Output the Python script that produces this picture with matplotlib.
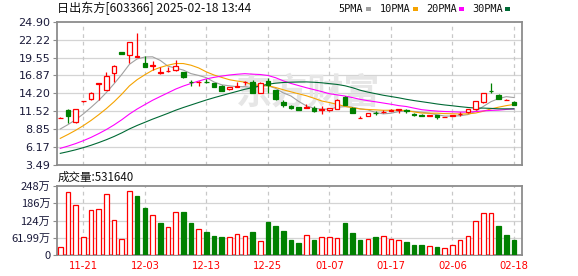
import numpy as np
import pandas as pd
import matplotlib
matplotlib.use("Agg")
import matplotlib.pyplot as plt
from matplotlib.patches import Rectangle

# ---------------- data ----------------
title = "日出东方[603366] 2025-02-18 13:44"
vol_title = "成交量:531640"
tick_dates = ["11-21", "12-03", "12-13", "12-25", "01-07", "01-17", "02-06", "02-18"]
holidays = ["2025-01-01", "2025-01-28", "2025-01-29", "2025-01-30", "2025-01-31",
            "2025-02-03", "2025-02-04"]
price_tick_labels = ["3.49", "6.17", "8.85", "11.52", "14.20", "16.87", "19.55", "22.22", "24.90"]
vol_tick_values = [0, 61.99, 124, 186, 248]
vol_tick_labels = ["0", "61.99万", "124万", "186万", "248万"]
ma_names = ["5PMA", "10PMA", "20PMA", "30PMA"]
ma_periods = [5, 10, 20, 30]

# closes before the first visible day (only feed the moving averages)
prior_close = [3.30, 3.40, 3.45, 3.60, 3.70, 3.80, 3.85, 3.95, 4.05, 4.20,
               4.20, 4.30, 4.35, 4.40, 4.45, 4.50, 4.55, 4.60, 4.70, 4.85,
               5.05, 5.55, 6.10, 6.50, 7.15, 7.60, 8.15, 8.70, 9.34]

open_ = [10.52, 11.70, 9.87, 12.98, 13.40, 15.66, 14.75, 17.29, 20.37, 19.87,
         19.70, 18.68, 18.28, 17.28, 17.48, 17.68, 17.34, 15.94, 15.88, 15.94,
         15.69, 15.30, 14.79, 15.20, 15.85, 15.89, 14.30, 16.09, 14.70, 12.90,
         12.35, 12.15, 12.05, 12.00, 11.75, 11.70, 11.90, 13.60, 12.00, 10.50,
         10.86, 11.30, 11.40, 11.60, 11.75, 11.65, 11.16, 11.00, 10.88, 10.90,
         10.62, 10.80, 11.05, 11.36, 11.90, 12.95, 14.60, 13.95, 13.20, 12.95]
high = [10.70, 11.80, 11.85, 13.10, 14.45, 15.78, 17.34, 18.40, 20.40, 21.85,
        23.26, 19.77, 19.08, 18.18, 18.18, 19.13, 17.44, 16.19, 15.98, 16.29,
        15.79, 15.44, 15.12, 15.89, 16.04, 16.19, 15.85, 16.49, 14.75, 13.15,
        12.50, 12.20, 12.60, 12.30, 12.30, 12.05, 13.30, 13.80, 12.10, 10.85,
        11.25, 11.55, 11.70, 11.80, 11.82, 11.80, 11.20, 11.05, 11.00, 11.00,
        10.68, 10.98, 11.40, 11.86, 13.05, 14.25, 15.75, 14.05, 13.35, 13.05]
low = [10.45, 9.72, 9.80, 12.95, 13.20, 13.20, 14.75, 15.94, 20.00, 18.68,
       19.65, 18.15, 17.68, 17.08, 17.45, 17.53, 16.54, 15.34, 15.34, 15.69,
       15.09, 14.60, 14.75, 15.09, 15.44, 14.30, 14.25, 14.20, 13.20, 12.20,
       11.90, 11.76, 12.00, 11.36, 11.05, 11.50, 11.85, 12.40, 11.20, 10.50,
       10.86, 10.95, 11.25, 11.55, 11.30, 11.20, 10.80, 10.85, 10.75, 10.40,
       10.60, 10.78, 10.80, 11.20, 11.70, 12.70, 14.20, 13.30, 13.15, 12.40]
close = [10.56, 10.86, 11.80, 13.05, 14.25, 15.74, 16.79, 18.33, 20.02, 21.82,
         19.77, 18.18, 18.48, 17.33, 17.53, 18.33, 16.69, 15.84, 15.95, 15.88,
         15.09, 14.60, 15.09, 15.30, 15.90, 14.30, 15.79, 15.44, 13.30, 12.50,
         11.96, 11.76, 12.10, 11.56, 11.80, 12.00, 13.15, 12.50, 11.20, 10.55,
         11.25, 11.20, 11.45, 11.65, 11.80, 11.60, 10.96, 10.86, 10.95, 10.60,
         10.65, 10.95, 11.10, 11.80, 13.05, 14.25, 14.55, 13.40, 13.25, 12.40]
volume = [27.6, 225, 180, 63, 160, 164, 218, 125, 56, 229,
          212, 169, 143, 115, 99, 153, 155, 115, 92, 83,
          68, 65, 63, 74, 67, 83, 50, 119, 104, 86,
          54, 43, 72, 54, 63, 63, 60, 115, 79, 54,
          56, 65, 67, 56, 53, 47, 36, 36, 31, 29,
          24, 35, 53, 67, 121, 150, 150, 104, 72, 53.164]

# ---------------- style ----------------
W, H = 578, 276
RED = "#ff0000"
GREEN = "#008000"
MA_COLORS = ["#a0a0a0", "#f5a300", "#ff00ff", "#006a35"]
GRID = "#d4d4d4"
SPINE = "#8c8c8c"
LABEL = "#1a1a3a"
CJK = ["Noto Sans CJK SC", "DejaVu Sans"]

def fx(px):
    return px / W

def fy(py):
    return 1 - py / H

n = len(close)
idx = np.arange(n)
days = pd.bdate_range("2024-11-18", "2025-02-18")
days = [d for d in days if d.strftime("%Y-%m-%d") not in holidays]
dates = [d.strftime("%m-%d") for d in days]
tick_pos = [dates.index(t) for t in tick_dates]

full = np.array(prior_close + close)
off = len(prior_close)
mas = [np.array([full[off + i - p + 1: off + i + 1].mean() for i in range(n)]) for p in ma_periods]

fig = plt.figure(figsize=(W / 100, H / 100), dpi=100)
left, right = 56.5, 522.3
ax = fig.add_axes([fx(left), fy(165), (right - left) / W, (165 - 21.7) / H])
ax2 = fig.add_axes([fx(left), fy(255), (right - left) / W, (255 - 186) / H])

xlim = (-0.49, 60.08)
ymin, ymax = 3.49, 24.90
pticks = np.linspace(ymin, ymax, len(price_tick_labels))

# ---- price panel ----
ax.set_xlim(*xlim)
ax.set_ylim(ymin, ymax)
for yv in pticks[1:-1]:
    ax.axhline(yv, color=GRID, lw=0.9, zorder=0)
for xp in tick_pos:
    ax.axvline(xp, color="#c8c8c8", lw=0.9, ls=(0, (3, 3)), zorder=0)

ax.text(fx(308), fy(93), "东方财富", transform=fig.transFigure, ha="center", va="center",
        fontsize=26, fontweight="bold", color="#e6e6e6", family=CJK, zorder=0.5)

for m, col in zip(mas, MA_COLORS):
    ax.plot(idx, m, color=col, lw=0.8, zorder=2)

bw = 0.6
for i in range(n):
    o, h, l, c = open_[i], high[i], low[i], close[i]
    up = c >= o
    col = RED if up else GREEN
    ax.vlines(i, l, h, color=col, lw=0.9, zorder=3)
    bot = min(o, c)
    hgt = max(abs(c - o), 0.05)
    ax.bar(i, hgt, bw, bot, facecolor="white" if up else col, edgecolor=col, lw=0.9, zorder=4)

ax.set_yticks(pticks)
ax.set_yticklabels(price_tick_labels)
ax.set_xticks([])
ax.tick_params(axis="y", direction="out", length=3, width=0.8, color=SPINE, pad=1.5,
               labelsize=8, labelcolor=LABEL)
for s in ax.spines.values():
    s.set_color(SPINE)
    s.set_linewidth(1.3)

# ---- volume panel ----
ax2.set_xlim(*xlim)
ax2.set_ylim(0, 248)
for yv in vol_tick_values[1:-1]:
    ax2.axhline(yv, color=GRID, lw=0.9, zorder=0)
for xp in tick_pos:
    ax2.axvline(xp, color="#c8c8c8", lw=0.9, ls=(0, (3, 3)), zorder=0)
for i in range(n):
    up = True if i == 0 else close[i] >= close[i - 1]
    col = RED if up else GREEN
    ax2.bar(i, volume[i], bw, 0, facecolor="white" if up else col, edgecolor=col, lw=0.9, zorder=3)
ax2.set_yticks(vol_tick_values)
ax2.set_yticklabels(vol_tick_labels, family=CJK)
ax2.set_xticks(tick_pos)
ax2.set_xticklabels([dates[p] for p in tick_pos])
ax2.tick_params(axis="y", direction="out", length=3, width=0.8, color=SPINE, pad=1.5,
                labelsize=8, labelcolor=LABEL)
ax2.tick_params(axis="x", length=0, pad=4.5, labelsize=7.2, labelcolor=RED)
for s in ax2.spines.values():
    s.set_color(SPINE)
    s.set_linewidth(1.3)

# ---- texts ----
fig.text(fx(57), fy(8.5), title, ha="left", va="center", fontsize=8.7, family=CJK, color="#111111")
fig.text(fx(58), fy(177), vol_title, ha="left", va="center", fontsize=8.3, family=CJK, color="#111111")

leg_x = [338, 380, 426, 472]
sq_x = [366, 413, 459, 505]
for name, col, tx, sx in zip(ma_names, MA_COLORS, leg_x, sq_x):
    fig.text(fx(tx), fy(8.5), name, ha="left", va="center", fontsize=7.4,
             family="DejaVu Sans Mono", color="#111111")
    fig.add_artist(Rectangle((fx(sx), fy(10.5)), 5 / W, 4 / H, transform=fig.transFigure,
                             facecolor=col, edgecolor="none"))

fig.savefig("out.png", dpi=100)
